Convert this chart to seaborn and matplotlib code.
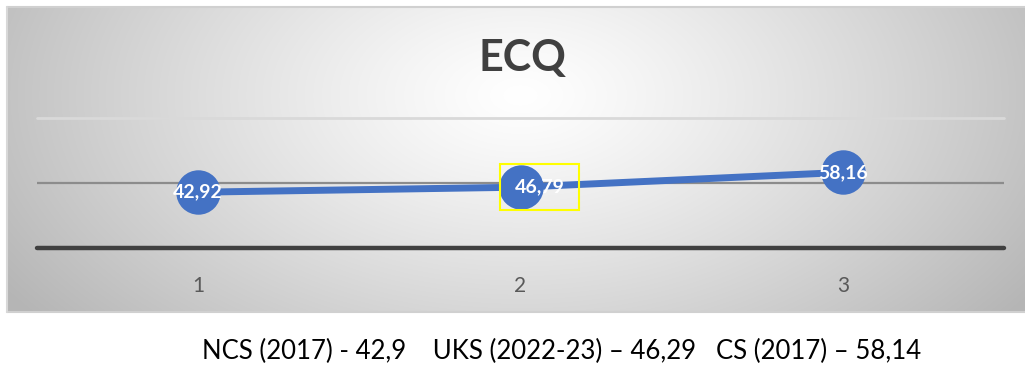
import numpy as np
import matplotlib.pyplot as plt
import seaborn as sns

# data
kategoriler = [1, 2, 3]
ecq_degerleri = [42.92, 46.79, 58.16]
etiketler = ["42,92", "46,79", "58,16"]
alt_yazi = "NCS (2017) - 42,9    UKS (2022-23) \u2013 46,29   CS (2017) \u2013 58,14"

W, H = 1025, 365
sns.set_style("white")
plt.rcParams['font.family'] = ['Lato', 'DejaVu Sans']

fig = plt.figure(figsize=(W / 100, H / 100), dpi=100)
fig.patch.set_facecolor("white")

# chart area with radial gray gradient
x0, x1, y0, y1 = 7, 1025, 7, 312
bg = fig.add_axes([x0 / W, 1 - y1 / H, (x1 - x0) / W, (y1 - y0) / H])
gx, gy = np.meshgrid(np.arange(x0, x1), np.arange(y0, y1))
d = np.sqrt(((gx - 520) / 560.0) ** 2 + ((gy - 95) / 330.0) ** 2)
val = 255 - 66 * np.clip(d, 0, 1.1) ** 1.2
img = np.dstack([val, val, val]) / 255.0
bg.imshow(img, aspect="auto", interpolation="bilinear")
bg.set_axis_off()
fig.add_artist(plt.Line2D([x0 / W, 1], [1 - y0 / H] * 2, color="#d0d0d0", lw=1.5))
fig.add_artist(plt.Line2D([x0 / W, 1], [1 - y1 / H] * 2, color="#d0d0d0", lw=1.5))
fig.add_artist(plt.Line2D([x0 / W] * 2, [1 - y0 / H, 1 - y1 / H], color="#d8d8d8", lw=1.5))

# plot area: y 0..100 -> px 248..118, x 0.5..3.5 -> px 37..1004
ax = fig.add_axes([37 / W, 1 - 248 / H, 967 / W, 130 / H])
ax.patch.set_alpha(0)
ax.set_xlim(0.5, 3.5)
ax.set_ylim(0, 100)
ax.axhline(100, color="#d9d9d9", lw=2, zorder=1, clip_on=False)
ax.axhline(50, color="#8c8c8c", lw=1.6, zorder=1)
ax.axhline(0, color="#404040", lw=3.2, zorder=1, clip_on=False)

sns.lineplot(x=kategoriler, y=ecq_degerleri, ax=ax, color="#4472C4", lw=5,
             marker="o", markersize=32, markeredgewidth=0, zorder=3)

for i, (k, v, t) in enumerate(zip(kategoriler, ecq_degerleri, etiketler)):
    if i == 1:
        ax.annotate(t, (k, v), xytext=(14, 0), textcoords="offset points",
                    ha="center", va="center", color="white", fontsize=14,
                    fontweight="bold", zorder=5,
                    bbox=dict(boxstyle="square,pad=0.75", fc="none", ec="#ffff00", lw=1.5))
    else:
        ax.annotate(t, (k, v), ha="center", va="center", color="white",
                    fontsize=14, fontweight="bold", zorder=5)

ax.set_xticks(kategoriler)
ax.set_xticklabels([str(k) for k in kategoriler], color="#595959", fontsize=15)
ax.set_yticks([])
ax.tick_params(axis="x", length=0, pad=20)
for s in ax.spines.values():
    s.set_visible(False)
ax.set_xlabel("")
ax.set_ylabel("")

fig.text(522 / W, 1 - 58 / H, "ECQ", ha="center", va="center",
         fontsize=31, fontweight="bold", color="#404040")
fig.text(562 / W, 1 - 351 / H, alt_yazi, ha="center", va="center",
         fontsize=18.5, color="black")

fig.savefig("out.png", dpi=100)
